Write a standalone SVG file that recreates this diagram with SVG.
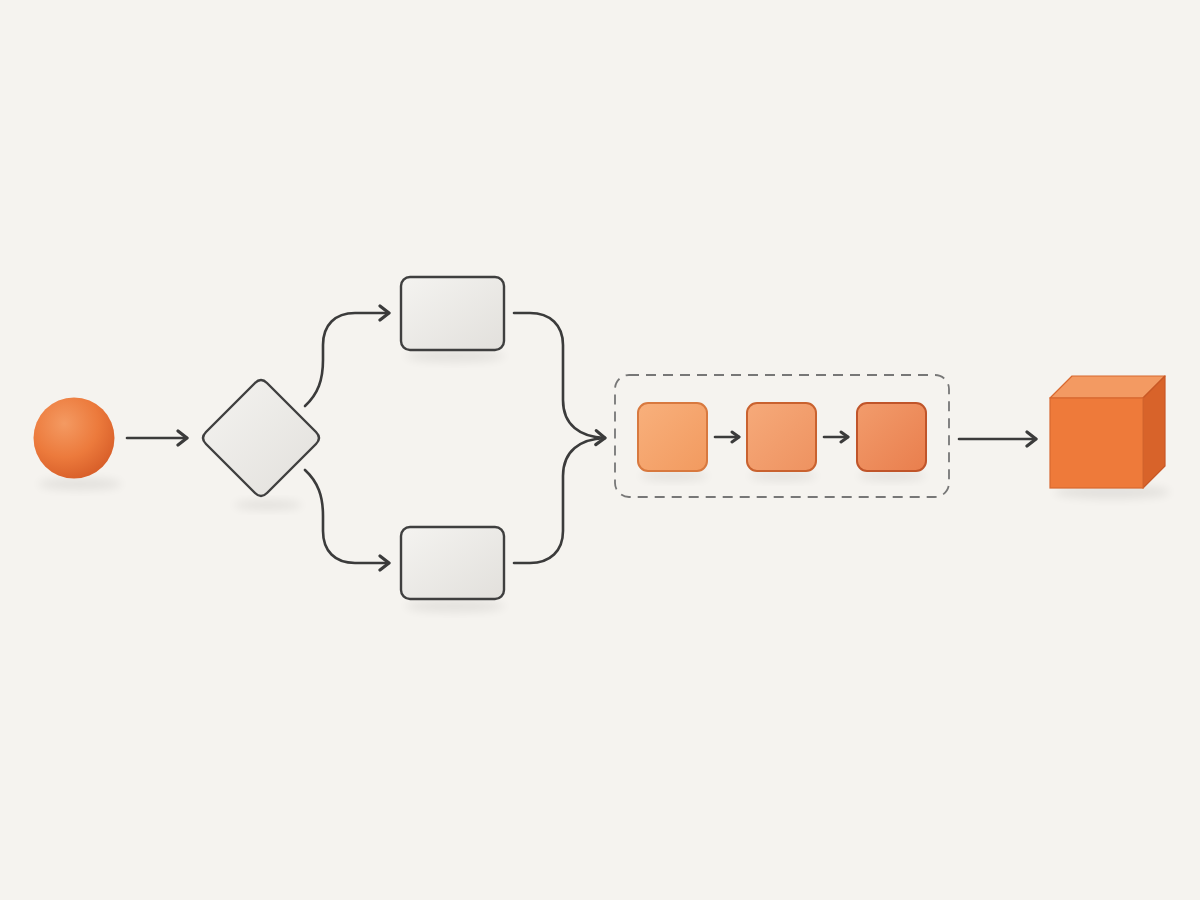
<svg xmlns="http://www.w3.org/2000/svg" width="1200" height="900" viewBox="0 0 1200 900">
<defs>
<style>
.conn{fill:none;stroke:#3b3b3b;stroke-width:2.6;stroke-linecap:round;stroke-linejoin:round}
.box{stroke:#3f3f3f;stroke-width:2.4}
.shadow{fill:#000;opacity:0.07;filter:url(#blur)}
</style>
<filter id="blur" x="-50%" y="-50%" width="200%" height="200%"><feGaussianBlur stdDeviation="5"/></filter>
<radialGradient id="sphereG" cx="0.38" cy="0.32" r="0.7">
<stop offset="0" stop-color="#F49A62"/>
<stop offset="0.6" stop-color="#EC7A3C"/>
<stop offset="1" stop-color="#D9602A"/>
</radialGradient>
<linearGradient id="grayG" x1="0" y1="0" x2="1" y2="1">
<stop offset="0" stop-color="#F4F3F0"/>
<stop offset="1" stop-color="#E2E0DC"/>
</linearGradient>
<linearGradient id="o1" x1="0" y1="0" x2="1" y2="1"><stop offset="0" stop-color="#F8B07C"/><stop offset="1" stop-color="#F29A5F"/></linearGradient>
<linearGradient id="o2" x1="0" y1="0" x2="1" y2="1"><stop offset="0" stop-color="#F6AA7A"/><stop offset="1" stop-color="#EE9260"/></linearGradient>
<linearGradient id="o3" x1="0" y1="0" x2="1" y2="1"><stop offset="0" stop-color="#F29C6C"/><stop offset="1" stop-color="#E97E4D"/></linearGradient>
<marker id="arr" viewBox="0 0 14 14" refX="11" refY="7" markerWidth="14" markerHeight="14" markerUnits="userSpaceOnUse" orient="auto">
<path d="M4,2 L11,7 L4,12" fill="none" stroke="#3b3b3b" stroke-width="3" stroke-linecap="round" stroke-linejoin="round"/>
</marker>
<marker id="arrL" viewBox="0 0 18 18" refX="15" refY="9" markerWidth="18" markerHeight="18" markerUnits="userSpaceOnUse" orient="auto">
<path d="M6,2 L15,9 L6,16" fill="none" stroke="#3b3b3b" stroke-width="3.2" stroke-linecap="round" stroke-linejoin="round"/>
</marker>
</defs>
<rect width="1200" height="900" fill="#F5F3EF"/>

<g id="start">
<ellipse class="shadow" cx="80" cy="484" rx="42" ry="6"/>
<circle cx="74" cy="438" r="40.5" fill="url(#sphereG)"/>
</g>

<g id="decision">
<ellipse class="shadow" cx="268" cy="505" rx="34" ry="5"/>
<path d="M255,383 Q261,377 267,383 L316,432 Q322,438 316,444 L267,493 Q261,499 255,493 L206,444 Q200,438 206,432 Z" fill="url(#grayG)" class="box"/>
</g>

<g id="task-top">
<ellipse class="shadow" cx="455" cy="356" rx="50" ry="6"/>
<rect x="401" y="277" width="103" height="73" rx="9" fill="url(#grayG)" class="box"/>
</g>

<g id="task-bottom">
<ellipse class="shadow" cx="455" cy="606" rx="50" ry="6"/>
<rect x="401" y="527" width="103" height="72" rx="9" fill="url(#grayG)" class="box"/>
</g>

<g id="group">
<rect x="615" y="375" width="334" height="122" rx="14" fill="none" stroke="#777" stroke-width="1.8" stroke-dasharray="10 7"/>
</g>

<g id="step1">
<ellipse class="shadow" cx="674" cy="476" rx="34" ry="5"/>
<rect x="638" y="403" width="69" height="68" rx="10" fill="url(#o1)" stroke="#D8793F" stroke-width="2"/>
</g>
<g id="step2">
<ellipse class="shadow" cx="783" cy="476" rx="34" ry="5"/>
<rect x="747" y="403" width="69" height="68" rx="10" fill="url(#o2)" stroke="#C9622F" stroke-width="2"/>
</g>
<g id="step3">
<ellipse class="shadow" cx="892" cy="476" rx="34" ry="5"/>
<rect x="857" y="403" width="69" height="68" rx="10" fill="url(#o3)" stroke="#C0552A" stroke-width="2"/>
</g>

<g id="result">
<ellipse class="shadow" cx="1112" cy="492" rx="58" ry="7"/>
<polygon points="1050,398 1072,376 1165,376 1143,398" fill="#F39A62" stroke="#D8682F" stroke-width="1.2" stroke-linejoin="round"/>
<polygon points="1143,398 1165,376 1165,466 1143,488" fill="#D8632A" stroke="#C85826" stroke-width="1.2" stroke-linejoin="round"/>
<rect x="1050" y="398" width="93" height="90" fill="#EE7A3A" stroke="#D8682F" stroke-width="1.2"/>
</g>

<g id="connectors">
<path class="conn" d="M127,438 L187,438" marker-end="url(#arrL)"/>
<path class="conn" d="M305,406 C318,394 323,380 323,360 L323,345 C323,325 335,313 355,313 L389,313" marker-end="url(#arrL)"/>
<path class="conn" d="M305,470 C318,482 323,496 323,516 L323,531 C323,551 335,563 355,563 L389,563" marker-end="url(#arrL)"/>
<path class="conn" d="M514,313 L530,313 C550,313 563,325 563,345 L563,400 C563,425 580,437 605,438" marker-end="url(#arrL)"/>
<path class="conn" d="M514,563 L530,563 C550,563 563,551 563,531 L563,476 C563,451 580,439 605,438"/>
<path class="conn" d="M715,437 L739,437" marker-end="url(#arr)"/>
<path class="conn" d="M824,437 L848,437" marker-end="url(#arr)"/>
<path class="conn" d="M959,439 L1036,439" marker-end="url(#arrL)"/>
</g>
</svg>
